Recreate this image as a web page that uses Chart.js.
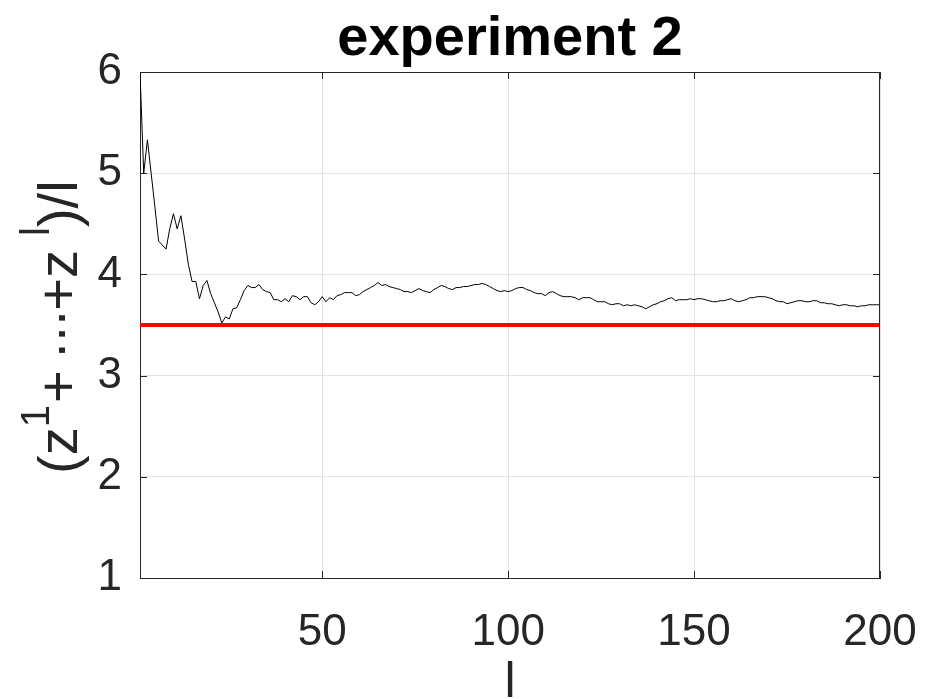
<!DOCTYPE html>
<html>
<head>
<meta charset="utf-8">
<script src="https://cdn.jsdelivr.net/npm/chart.js@4.4.1/dist/chart.umd.min.js"></script>
<style>
  html, body { margin: 0; padding: 0; background: #fff; }
  #wrap { position: relative; width: 926px; height: 699px; }
</style>
</head>
<body>
<div id="wrap"><canvas id="chart" width="926" height="699"></canvas></div>
<script>
// step index l = 1..200
const steps = Array.from({ length: 200 }, (_, i) => i + 1);

// running mean (z^1 + ... + z^l) / l
const runningMean = [
  6.00, 5.00, 5.33, 5.00, 4.67, 4.33, 4.29, 4.25, 4.45, 4.60,
  4.45, 4.58, 4.35, 4.10, 3.93, 3.93, 3.76, 3.89, 3.94, 3.81,
  3.72, 3.63, 3.52, 3.58, 3.56, 3.66, 3.67, 3.75, 3.84, 3.89,
  3.87, 3.87, 3.90, 3.85, 3.83, 3.82, 3.75, 3.75, 3.73, 3.76,
  3.73, 3.79, 3.78, 3.75, 3.78, 3.78, 3.72, 3.70, 3.73, 3.78,
  3.73, 3.77, 3.75, 3.79, 3.80, 3.82, 3.82, 3.82, 3.79, 3.80,
  3.83, 3.85, 3.87, 3.89, 3.92, 3.89, 3.90, 3.88, 3.87, 3.86,
  3.85, 3.83, 3.83, 3.82, 3.84, 3.86, 3.84, 3.83, 3.82, 3.85,
  3.87, 3.89, 3.88, 3.86, 3.85, 3.87, 3.87, 3.88, 3.88, 3.89,
  3.90, 3.90, 3.91, 3.90, 3.88, 3.86, 3.84, 3.83, 3.84, 3.83,
  3.84, 3.86, 3.87, 3.87, 3.85, 3.84, 3.82, 3.81, 3.81, 3.79,
  3.82, 3.83, 3.81, 3.79, 3.78, 3.78, 3.78, 3.77, 3.75, 3.77,
  3.77, 3.77, 3.75, 3.73, 3.73, 3.73, 3.71, 3.70, 3.71, 3.71,
  3.69, 3.70, 3.69, 3.70, 3.69, 3.68, 3.66, 3.68, 3.70, 3.71,
  3.73, 3.74, 3.76, 3.77, 3.74, 3.75, 3.75, 3.75, 3.76, 3.75,
  3.76, 3.76, 3.75, 3.74, 3.73, 3.73, 3.74, 3.74, 3.75, 3.76,
  3.74, 3.73, 3.74, 3.75, 3.77, 3.77, 3.78, 3.78, 3.78, 3.77,
  3.76, 3.74, 3.73, 3.73, 3.71, 3.72, 3.73, 3.74, 3.74, 3.73,
  3.73, 3.74, 3.74, 3.72, 3.72, 3.71, 3.71, 3.70, 3.69, 3.70,
  3.70, 3.69, 3.69, 3.68, 3.69, 3.69, 3.70, 3.70, 3.70, 3.70
];

const referenceLevel = 3.5;
const xTicks = [50, 100, 150, 200];
const yTicks = [1, 2, 3, 4, 5, 6];

const FONT = "'Liberation Sans', Arial, Helvetica, sans-serif";
const AXIS_COLOR = "#262626";

// MATLAB-like box, inward ticks, title and axis labels
const decorPlugin = {
  id: "decor",
  afterDraw(chart) {
    const { ctx, chartArea: a, scales } = chart;
    ctx.save();
    ctx.strokeStyle = AXIS_COLOR;
    ctx.lineWidth = 1;
    ctx.beginPath();
    ctx.moveTo(a.left + 0.5, a.top + 0.5);
    ctx.lineTo(a.right - 0.5, a.top + 0.5);
    ctx.lineTo(a.right - 0.5, a.bottom);
    ctx.stroke();

    const tl = 7;
    ctx.beginPath();
    yTicks.forEach(v => {
      const y = Math.round(scales.y.getPixelForValue(v)) + 0.5;
      ctx.moveTo(a.left, y); ctx.lineTo(a.left + tl, y);
      ctx.moveTo(a.right, y); ctx.lineTo(a.right - tl, y);
    });
    xTicks.forEach(v => {
      const x = Math.round(scales.x.getPixelForValue(v)) + 0.5;
      ctx.moveTo(x, a.bottom); ctx.lineTo(x, a.bottom - tl);
      ctx.moveTo(x, a.top); ctx.lineTo(x, a.top + tl);
    });
    ctx.stroke();

    // title
    ctx.fillStyle = "#000";
    ctx.textAlign = "center";
    ctx.textBaseline = "alphabetic";
    ctx.font = "bold 56px " + FONT;
    ctx.fillText("experiment 2", (a.left + a.right) / 2, 55);

    // x label
    ctx.fillStyle = AXIS_COLOR;
    ctx.font = "50px " + FONT;
    ctx.fillText("l", (a.left + a.right) / 2, 697);

    // y label, rotated (reads bottom-up), with superscripts: [text, superscript, gap after]
    const dot = "\u00b7";
    const parts = [
      ["(", false, 0], ["z", false, 0], ["1", true, 2],
      ["+", false, 11], [dot, false, -2.6], [dot, false, -2.6], [dot, false, -2], ["+", false, 0],
      ["z", false, 14], ["l", true, 0], [")", false, 0], ["/", false, 0], ["l", false, 0]
    ];
    const mainFont = "56px " + FONT;
    const supFont = "40px " + FONT;
    ctx.translate(77, 474);
    ctx.rotate(-Math.PI / 2);
    ctx.textAlign = "left";
    let x = 0;
    parts.forEach(([t, sup, gap]) => {
      ctx.font = sup ? supFont : mainFont;
      ctx.fillText(t, x, sup ? -28 : 0);
      x += ctx.measureText(t).width + gap;
    });
    ctx.restore();
  }
};

new Chart(document.getElementById("chart").getContext("2d"), {
  type: "line",
  data: {
    datasets: [
      {
        data: steps.map((s, i) => ({ x: s, y: runningMean[i] })),
        borderColor: "#000000",
        borderWidth: 1,
        pointRadius: 0,
        tension: 0,
        order: 1
      },
      {
        data: [
          { x: steps[0], y: referenceLevel },
          { x: steps[steps.length - 1], y: referenceLevel }
        ],
        borderColor: "#ff0000",
        borderWidth: 4,
        pointRadius: 0,
        order: 0
      }
    ]
  },
  options: {
    responsive: false,
    animation: false,
    layout: { padding: { top: 72, right: 46, left: 0, bottom: 0 } },
    scales: {
      x: {
        type: "linear",
        min: 1,
        max: 200,
        afterBuildTicks: s => { s.ticks = xTicks.map(v => ({ value: v })); },
        afterFit: s => { s.height = 121; s.paddingLeft = 0; s.paddingRight = 0; },
        grid: { color: "#e3e3e3", drawTicks: false },
        border: { color: AXIS_COLOR, width: 1 },
        ticks: {
          font: { family: FONT, size: 44 },
          color: AXIS_COLOR,
          padding: 28,
          maxRotation: 0
        }
      },
      y: {
        type: "linear",
        min: 1,
        max: 6,
        afterBuildTicks: s => { s.ticks = yTicks.map(v => ({ value: v })); },
        afterFit: s => { s.width = 140; s.paddingTop = 0; s.paddingBottom = 0; },
        grid: { color: "#e3e3e3", drawTicks: false },
        border: { color: AXIS_COLOR, width: 1 },
        ticks: {
          font: { family: FONT, size: 44 },
          color: AXIS_COLOR,
          padding: 18
        }
      }
    },
    plugins: {
      legend: { display: false },
      tooltip: { enabled: false }
    }
  },
  plugins: [decorPlugin]
});
</script>
</body>
</html>
